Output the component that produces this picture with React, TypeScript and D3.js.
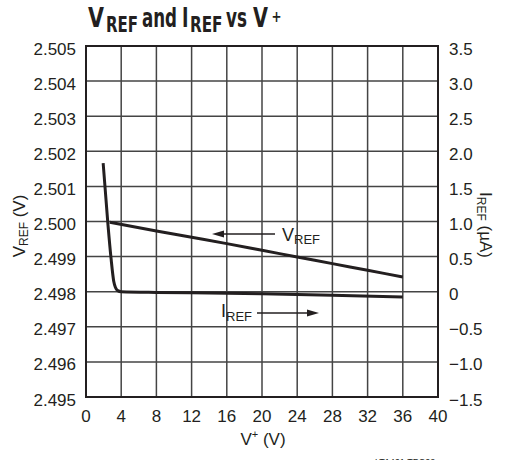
import * as d3 from "d3";

// V+ (V) tick values
const xTicks = [0, 4, 8, 12, 16, 20, 24, 28, 32, 36, 40];
// left axis VREF (V)
const vrefTicks = [2.495, 2.496, 2.497, 2.498, 2.499, 2.5, 2.501, 2.502, 2.503, 2.504, 2.505];
// right axis IREF (µA)
const irefTicks = [-1.5, -1.0, -0.5, 0, 0.5, 1.0, 1.5, 2.0, 2.5, 3.0, 3.5];

// VREF curve
const vrefX = [2.7, 8, 12, 16, 20, 24, 28, 32, 36];
const vrefY = [2.49998, 2.49973, 2.49955, 2.49937, 2.49918, 2.49899, 2.4988, 2.49861, 2.49842];

// IREF curve
const irefX = [1.95, 2.5, 2.85, 3.15, 3.35, 3.6, 4, 8, 12, 20, 28, 36];
const irefY = [1.83, 0.95, 0.47, 0.15, 0.06, 0.015, 0, -0.01, -0.015, -0.03, -0.05, -0.075];

const W = 511;
const H = 460;
const M = { left: 86, right: 438, top: 46, bottom: 397 };

const FONT = "'Liberation Sans', Arial, sans-serif";
const NARROW = "'DejaVu Sans Condensed', 'Liberation Sans', sans-serif";
const INK = "#231f20";

// title pieces: text, left x, width, baseline, size
const titleParts: [string, number, number, number, number][] = [
  ["V", 88, 16, 26.7, 27],
  ["REF", 106, 32, 32, 21],
  ["and", 142, 35, 26.7, 27],
  ["I", 182, 6.5, 26.7, 27],
  ["REF", 190, 32.5, 32, 21],
  ["vs", 226, 21, 26.7, 27],
  ["V", 253, 15, 26.7, 27],
  ["+", 271.5, 10, 21.5, 16],
];

export default function App() {
  const x = d3.scaleLinear().domain([0, 40]).range([M.left, M.right]);
  const yL = d3.scaleLinear().domain([2.495, 2.505]).range([M.bottom, M.top]);
  const yR = d3.scaleLinear().domain([-1.5, 3.5]).range([M.bottom, M.top]);

  const vrefPts = vrefX.map((v, i) => [v, vrefY[i]] as [number, number]);
  const irefPts = irefX.map((v, i) => [v, irefY[i]] as [number, number]);

  const vrefLine = d3
    .line<[number, number]>()
    .x((d) => x(d[0]))
    .y((d) => yL(d[1]))
    .curve(d3.curveMonotoneX);
  const irefLine = d3
    .line<[number, number]>()
    .x((d) => x(d[0]))
    .y((d) => yR(d[1]))
    .curve(d3.curveMonotoneX);

  const fmtL = d3.format(".3f");
  const fmtR = (v: number) => (v === 0 ? "0" : d3.format(".1f")(v));

  return (
    <svg
      width={W}
      height={H}
      viewBox={`0 0 ${W} ${H}`}
      style={{ position: "absolute", left: 0, top: 0, background: "#fff" }}
    >
      {/* title */}
      <g fontFamily={NARROW} fontWeight="bold" fill={INK}>
        {titleParts.map(([t, tx, tw, ty, fs], i) => (
          <text
            key={i}
            x={tx}
            y={ty}
            fontSize={fs}
            textLength={tw}
            lengthAdjust="spacingAndGlyphs"
          >
            {t}
          </text>
        ))}
      </g>

      {/* grid */}
      <g stroke="#444" strokeWidth={1.5}>
        {xTicks.slice(1, -1).map((t) => (
          <line key={"gx" + t} x1={x(t)} x2={x(t)} y1={M.top} y2={M.bottom} />
        ))}
        {vrefTicks.slice(1, -1).map((t) => (
          <line key={"gy" + t} x1={M.left} x2={M.right} y1={yL(t)} y2={yL(t)} />
        ))}
      </g>
      <rect
        x={M.left}
        y={M.top}
        width={M.right - M.left}
        height={M.bottom - M.top}
        fill="none"
        stroke={INK}
        strokeWidth={2}
      />

      {/* tick labels */}
      <g fontFamily={FONT} fontSize={17} fill={INK}>
        {vrefTicks.map((t) => (
          <text key={"l" + t} x={76} y={yL(t) + 8.5} textAnchor="end">
            {fmtL(t)}
          </text>
        ))}
        {irefTicks.map((t) => (
          <text key={"r" + t} x={449} y={yR(t) + 8.5} textAnchor="start">
            {fmtR(t)}
          </text>
        ))}
        {xTicks.map((t) => (
          <text key={"x" + t} x={x(t)} y={422} textAnchor="middle">
            {t}
          </text>
        ))}
      </g>

      {/* axis titles */}
      <text
        fontFamily={FONT}
        fontSize={17}
        fill={INK}
        transform="translate(25,226) rotate(-90)"
        textAnchor="middle"
      >
        V<tspan fontSize={12} dy={3}>REF</tspan>
        <tspan dy={-3}> (V)</tspan>
      </text>
      <text
        fontFamily={FONT}
        fontSize={17}
        fill={INK}
        transform="translate(480,225) rotate(90)"
        textAnchor="middle"
      >
        I<tspan fontSize={12} dy={3}>REF</tspan>
        <tspan dy={-3}> (µA)</tspan>
      </text>
      <text fontFamily={FONT} fontSize={17} fill={INK} x={263} y={445} textAnchor="middle">
        V<tspan fontSize={11} dy={-7}>+</tspan>
        <tspan dy={7}> (V)</tspan>
      </text>

      {/* curves */}
      <path d={vrefLine(vrefPts) ?? ""} fill="none" stroke={INK} strokeWidth={3} />
      <path d={irefLine(irefPts) ?? ""} fill="none" stroke={INK} strokeWidth={3} />

      {/* annotations */}
      <g stroke={INK} strokeWidth={1.3}>
        <line x1={275} x2={220} y1={234} y2={234} />
        <line x1={257} x2={310} y1={313} y2={313} />
      </g>
      <path d="M212,234 L224,230.5 L224,237.5 Z" fill={INK} />
      <path d="M319,313 L307,309.5 L307,316.5 Z" fill={INK} />
      <text fontFamily={FONT} fontSize={18} fill={INK} x={282} y={241}>
        V<tspan fontSize={13} dy={2.5}>REF</tspan>
      </text>
      <text fontFamily={FONT} fontSize={18} fill={INK} x={221} y={317}>
        I<tspan fontSize={13} dy={3.5}>REF</tspan>
      </text>

      {/* footnote, cut at the bottom edge */}
      <text fontFamily={FONT} fontSize={9} fill={INK} x={375} y={465}>
        LT1461 TPC02
      </text>
    </svg>
  );
}
